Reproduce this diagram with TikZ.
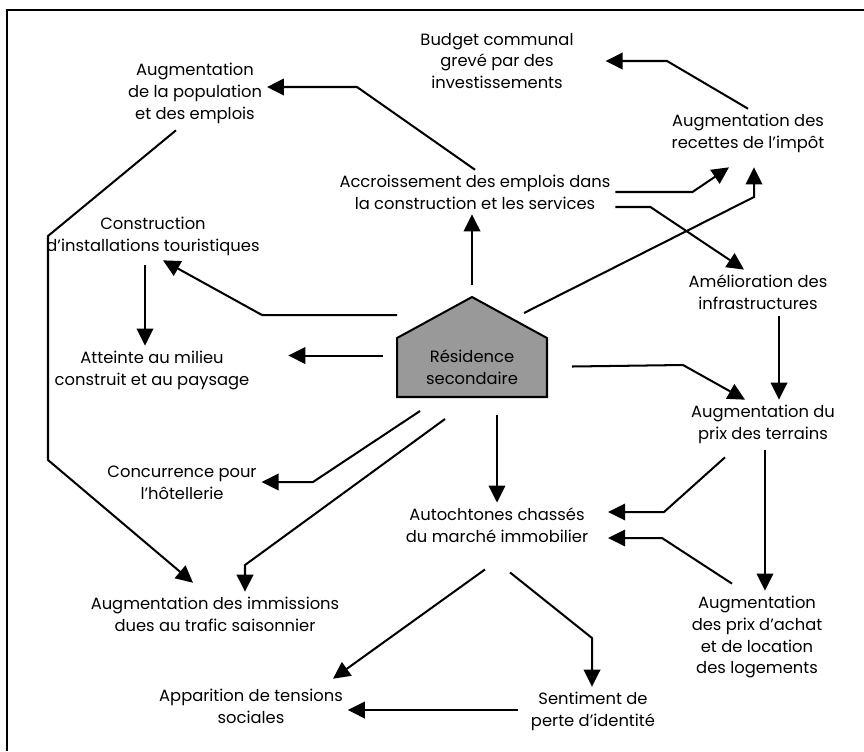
\documentclass[tikz,border=0pt]{standalone}
\usepackage{fontspec}
\setmainfont{Poppins}
\usepackage{tkz-euclide}
\usetikzlibrary{arrows.meta,calc,backgrounds}

\tikzset{
  effet/.style={align=center,inner sep=0pt,outer sep=0.1cm,
    font=\fontsize{9.3}{12.5}\selectfont},
  lien/.style={line width=1.15pt,-{Triangle[length=0.34cm,width=0.33cm]}},
  maison/.style={draw,line width=1.15pt,fill=black!40,line join=miter},
}

\begin{document}
\begin{tikzpicture}[x=0.02cm,y=-0.02cm]
  \useasboundingbox (0,0) rectangle (864,751);
  \draw[line width=1.4pt] (864,10) -- (7,10) -- (7,751);

  % les effets
  \node[effet] (budget) at (497,61) {Budget communal\\grevé par des\\investissements};
  \node[effet] (impot) at (748,133) {Augmentation des\\recettes de l'impôt};
  \node[effet] (popul) at (195,93) {Augmentation\\de la population\\et des emplois};
  \node[effet] (accr) at (475,192) {Accroissement des emplois dans\\la construction et les services};
  \node[effet] (constr) at (153,236) {Construction\\d'installations touristiques};
  \node[effet] (amel) at (758,292) {Amélioration des\\infrastructures};
  \node[effet] (atteinte) at (152,370) {Atteinte au milieu\\construit et au paysage};
  \node[effet] (terrains) at (763,424) {Augmentation du\\prix des terrains};
  \node[effet] (hotel) at (182,483) {Concurrence pour\\l'hôtellerie};
  \node[effet] (autoch) at (497,525) {Autochtones chassés\\du marché immobilier};
  \node[effet] (immis) at (215,614) {Augmentation des immissions\\dues au trafic saisonnier};
  \node[effet] (logement) at (757,637) {Augmentation\\des prix d'achat\\et de location\\des logements};
  \node[effet] (tensions) at (251,706) {Apparition de tensions\\sociales};
  \node[effet] (identite) at (593,711) {Sentiment de\\perte d'identité};

  % la maison
  \node[effet,outer sep=0pt,minimum width=3cm,minimum height=1.18cm] (house)
    at (472,367.5) {Résidence\\secondaire};
  \coordinate (roof) at ($(house.north)+(0,-41)$);
  \begin{pgfonlayer}{background}
    \draw[maison] (house.south west) -- (house.north west) -- (roof)
      -- (house.north east) -- (house.south east) -- cycle;
  \end{pgfonlayer}

  % coudes
  \tkzDefPoint(357,87){a1}
  \tkzDefPoint(667,61){b1}
  \tkzDefPoint(754,197){e1}
  \tkzDefPoint(262,315){g1}
  \tkzDefPoint(48,236){j1}
  \tkzDefPoint(48,460){j2}
  \tkzDefPoint(313,482){k1}
  \tkzDefPoint(245,565){l1}
  \tkzDefPoint(683,365){n1}
  \tkzDefPoint(664,512){p1}
  \tkzDefPoint(662,538){r1}
  \tkzDefPoint(592,638){t1}

  % fleches
  \draw[lien] (accr.north) -- (a1) -- (a1 -| popul.east);
  \draw[lien] (impot.north) -- (b1) -- ($(budget.east)+(27,0)$);
  \draw[lien] (accr.east) -- ++(77,0) -- ($(impot.south)+(-19,10)$);
  \draw[lien] ($(accr.east)+(0,15)$) -- ++(35,0) -- ($(amel.north)+(-14,0)$);
  \draw[lien,shorten >=0.2cm] ($(roof)+(52,16)$) -- (e1) -- (e1 |- impot.south);
  \draw[lien] ($(roof)+(0,-12)$) coordinate (f0) -- (f0 |- accr.south);
  \draw[lien] ($(house.north west)+(0,-23)$) -- (g1) -- ($(constr.south)+(10,0)$);
  \draw[lien] ($(constr.south)+(-8,5)$) coordinate (h0) -- (h0 |- atteinte.north);
  \draw[lien,shorten >=0.68cm] ($(house.west)+(-14,-12)$) coordinate (i0) -- (i0 -| atteinte.east);
  \draw[lien] ($(popul.south)+(-19,2)$) -- (j1) -- (j2) -- ($(immis.north)+(-22,-9)$);
  \draw[lien] ($(house.south)+(-52,14)$) -- (k1) -- (k1 -| hotel.east);
  \draw[lien] ($(house.south)+(-27,22)$) -- (l1) -- (l1 |- immis.north);
  \draw[lien] ($(house.south)+(25,18)$) coordinate (m0) -- (m0 |- autoch.north);
  \draw[lien] ($(house.east)+(25,-1)$) -- (n1) -- ($(terrains.north)+(-18,0)$);
  \draw[lien] ($(amel.south)+(21,2)$) coordinate (o0) -- (o0 |- terrains.north);
  \draw[lien,shorten >=0.3cm] ($(terrains.south)+(-38,9)$) -- (p1) -- (p1 -| autoch.east);
  \draw[lien] ($(terrains.south)+(2,2)$) coordinate (q0) -- (q0 |- logement.north);
  \draw[lien,shorten >=0.3cm] ($(logement.north)+(-25,-7)$) -- (r1) -- (r1 -| autoch.east);
  \draw[lien] ($(autoch.south)+(-12,22)$) -- ($(tensions.north)+(82,-5)$);
  \draw[lien] ($(autoch.south)+(13,25)$) -- (t1) -- (t1 |- identite.north);
  \draw[lien] ($(identite.west)+(-8,-1)$) coordinate (u0) -- (u0 -| tensions.east);
\end{tikzpicture}
\end{document}
